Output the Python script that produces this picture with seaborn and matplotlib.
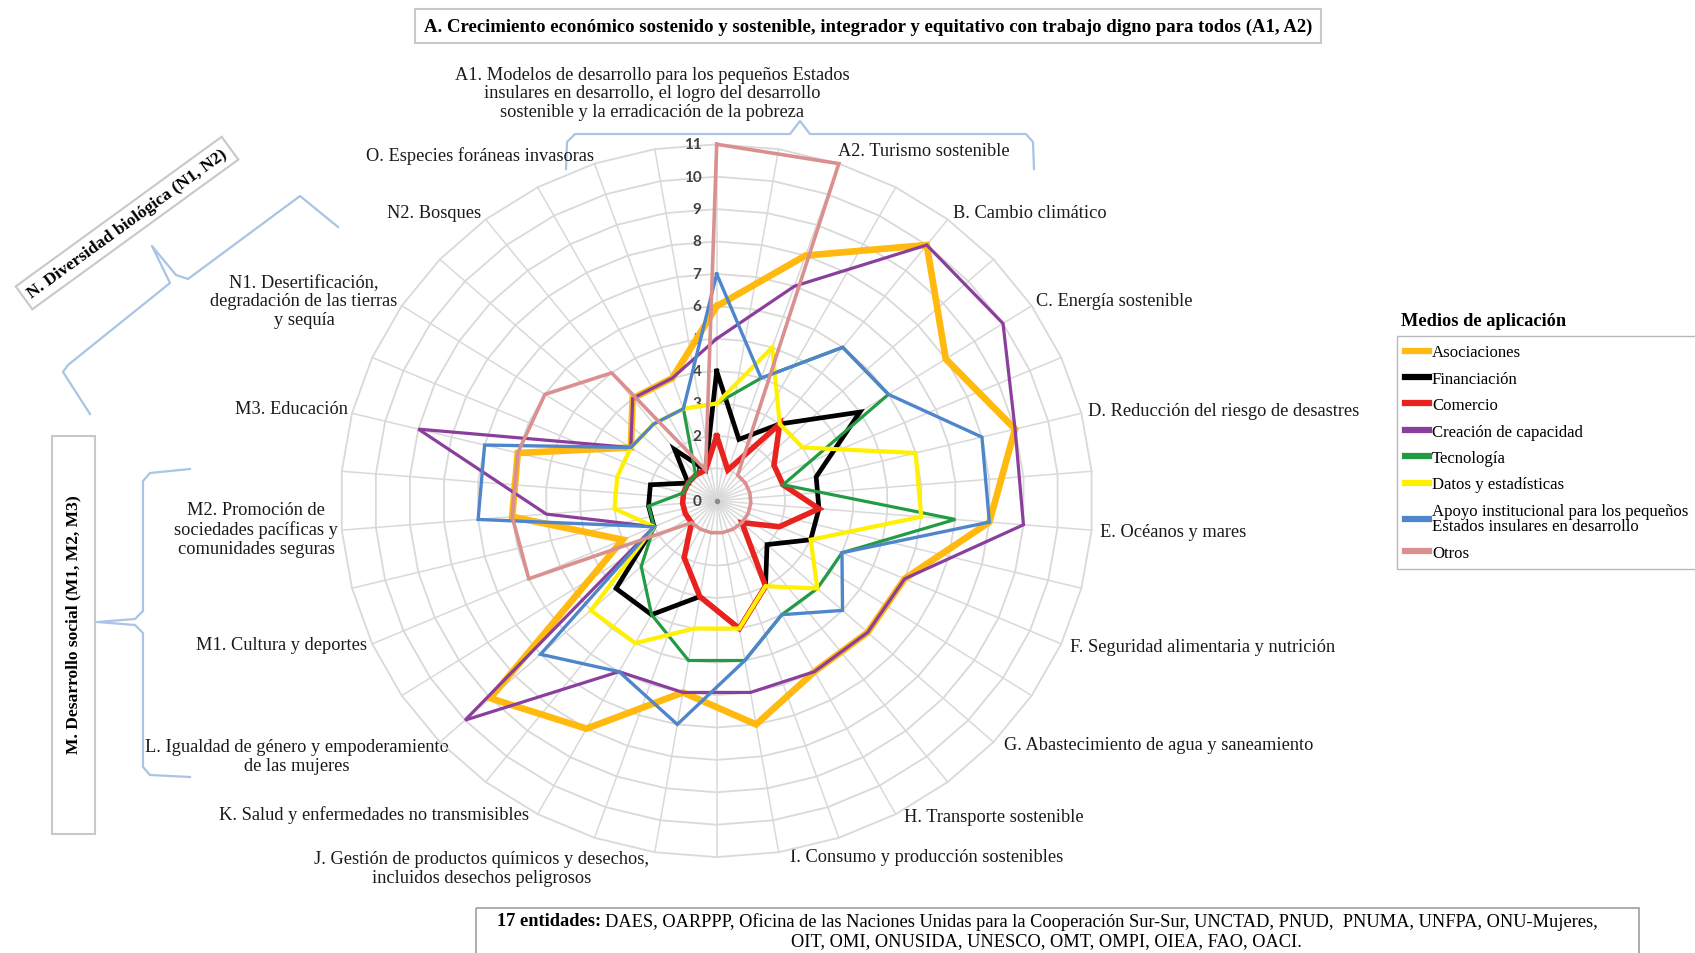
import numpy as np
import pandas as pd
import matplotlib
matplotlib.use("Agg")
import matplotlib.pyplot as plt
from matplotlib.lines import Line2D
from matplotlib.patches import Rectangle
import seaborn as sns

# categorias del grafico radial (en sentido horario desde arriba)
categorias = ["A1", "A2", "B", "C", "D", "E", "F", "G", "H", "I",
              "J", "K", "L", "M1", "M2", "M3", "N1", "N2", "O"]

etiquetas = [
    "A1. Modelos de desarrollo para los pequeños Estados\ninsulares en desarrollo, el logro del desarrollo\nsostenible y la erradicación de la pobreza",
    "A2. Turismo sostenible",
    "B. Cambio climático",
    "C. Energía sostenible",
    "D. Reducción del riesgo de desastres",
    "E. Océanos y mares",
    "F. Seguridad alimentaria y nutrición",
    "G. Abastecimiento de agua y saneamiento",
    "H. Transporte sostenible",
    "I. Consumo y producción sostenibles",
    "J. Gestión de productos químicos y desechos,\nincluidos desechos peligrosos",
    "K. Salud y enfermedades no transmisibles",
    "L. Igualdad de género y empoderamiento\nde las mujeres",
    "M1. Cultura y deportes",
    "M2. Promoción de\nsociedades pacíficas y\ncomunidades seguras",
    "M3. Educación",
    "N1. Desertificación,\ndegradación de las tierras\ny sequía",
    "N2. Bosques",
    "O. Especies foráneas invasoras",
]

# valores (numero de entidades) por medio de aplicacion
asociaciones = [6, 8, 10, 8, 9, 8, 6, 6, 6, 7, 6, 8, 9, 3, 6, 6, 3, 4, 4]
financiacion = [4, 2, 3, 5, 3, 3, 3, 2, 3, 4, 3, 4, 4, 2, 2, 2, 1, 2, 1]
comercio = [2, 1, 3, 2, 2, 3, 2, 1, 3, 4, 3, 2, 1, 1, 1, 1, 1, 1, 1]
creacion_capacidad = [5, 7, 10, 10, 9, 9, 6, 6, 6, 6, 6, 6, 10, 2, 5, 9, 3, 4, 4]
tecnologia = [3, 4, 6, 6, 2, 7, 4, 4, 4, 5, 5, 4, 3, 2, 2, 1, 1, 1, 3]
datos_estadisticas = [3, 5, 3, 3, 6, 6, 3, 4, 3, 4, 4, 5, 5, 2, 3, 3, 3, 3, 3]
apoyo_institucional = [7, 4, 6, 6, 8, 8, 4, 5, 4, 5, 7, 6, 7, 2, 7, 7, 3, 3, 3]
otros = [11, 11, 1, 1, 1, 1, 1, 1, 1, 1, 1, 1, 1, 6, 6, 6, 6, 5, 1]

series = ["Asociaciones", "Financiación", "Comercio", "Creación de capacidad",
          "Tecnología", "Datos y estadísticas",
          "Apoyo institucional para los pequeños\nEstados insulares en desarrollo",
          "Otros"]
valores = [asociaciones, financiacion, comercio, creacion_capacidad,
           tecnologia, datos_estadisticas, apoyo_institucional, otros]
colores = ["#FFB90F", "#000000", "#E8231F", "#8B3F9C",
           "#239B45", "#FFF000", "#4F86CB", "#D9908F"]
grosores = [4.8, 3.4, 4.0, 2.3, 2.3, 3.0, 2.4, 2.6]

niveles = list(range(0, 12))

# ---- figura ----
W, H = 1695, 954
fig = plt.figure(figsize=(W / 100, H / 100), dpi=100)
plt.rcParams["font.family"] = ["Liberation Serif", "DejaVu Serif"]
FS = 13.2

deco = fig.add_axes([0, 0, 1, 1])
deco.set_xlim(0, W)
deco.set_ylim(H, 0)
deco.axis("off")

cx, cy = 716.7, 501.7   # centro en pixeles
ux, uy = 34.2, 32.4     # pixeles por unidad (la imagen esta algo estirada)
lim = 13
ax = fig.add_axes([(cx - lim * ux) / W, (H - cy - lim * uy) / H,
                   2 * lim * ux / W, 2 * lim * uy / H])
ax.set_xlim(-lim, lim)
ax.set_ylim(-lim, lim)
ax.axis("off")
ax.patch.set_alpha(0)

n = len(categorias)
ang = 2 * np.pi * np.arange(n) / n

# rejilla tipo telarana
ang_grid = 2 * np.pi * np.arange(2 * n + 1) / (2 * n)
for r in niveles[1:]:
    ax.plot(r * np.sin(ang_grid), r * np.cos(ang_grid), color="#D9D9D9", lw=1.3, zorder=1)
for a in ang_grid[:-1]:
    ax.plot([0, max(niveles) * np.sin(a)], [0, max(niveles) * np.cos(a)],
            color="#D9D9D9", lw=1.1, zorder=1)
ax.plot(0, 0, "o", color="#8C8C8C", ms=3, zorder=1)

for r in niveles:
    ax.text(-0.45, r, str(r), ha="right", va="center", fontsize=11,
            fontweight="bold", color="#404040", family="Lato", zorder=2)

# series
filas = []
for nombre, vals in zip(series, valores):
    v = np.array(vals + vals[:1], dtype=float)
    a = np.append(ang, ang[0])
    for i in range(len(v)):
        filas.append({"serie": nombre, "orden": i,
                      "x": v[i] * np.sin(a[i]), "y": v[i] * np.cos(a[i])})
df = pd.DataFrame(filas)

for k, (nombre, col, lw) in enumerate(zip(series, colores, grosores)):
    sns.lineplot(data=df[df["serie"] == nombre], x="x", y="y", sort=False,
                 estimator=None, color=col, linewidth=lw, ax=ax, legend=False,
                 zorder=3 + k)
for l in ax.lines:
    l.set_solid_joinstyle("miter")
ax.set_xlabel("")
ax.set_ylabel("")

# etiquetas de categorias (posicion en pixeles, alineacion)
pos_etiquetas = [
    (652, 94, "center"), (924, 151, "center"), (953, 213, "left"),
    (1036, 302, "left"), (1088, 412, "left"), (1100, 533, "left"),
    (1070, 648, "left"), (1004, 746, "left"), (904, 818, "left"),
    (790, 858, "left"), (482, 869, "center"), (529, 815, "right"),
    (297, 757, "center"), (367, 646, "right"), (256, 530, "center"),
    (348, 410, "right"), (304, 302, "center"), (481, 214, "right"),
    (594, 156, "right"),
]
for txt, (px, py, al) in zip(etiquetas, pos_etiquetas):
    deco.text(px, py, txt, ha=al, va="center", fontsize=FS,
              multialignment="center", linespacing=1.12, color="#1a1a1a")

# titulo superior
deco.text(868, 27, "A. Crecimiento económico sostenido y sostenible, integrador y "
          "equitativo con trabajo digno para todos (A1, A2)",
          ha="center", va="center", fontsize=13.5, fontweight="bold",
          bbox=dict(boxstyle="square,pad=0.45", fc="white", ec="#C8C8C8", lw=1.5))

# llaves (corchetes) azules
azul = "#A9C4E4"
deco.plot([566, 567, 575, 790, 800, 810, 1026, 1033, 1034],
          [170, 143, 135, 135, 122, 135, 135, 143, 170], color=azul, lw=1.6)
deco.plot([90, 63, 68, 170, 152, 176, 188, 300, 338],
          [415, 373, 366, 284, 247, 276, 280, 197, 228], color=azul, lw=1.6)
deco.plot([190, 150, 143, 143, 135, 97, 135, 143, 143, 150, 190],
          [470, 474, 482, 612, 620, 623, 626, 634, 768, 776, 778], color=azul, lw=1.6)

# caja N
deco.text(127, 224, "N. Diversidad biológica (N1, N2)", rotation=36,
          rotation_mode="anchor", ha="center", va="center", fontsize=12.6,
          fontweight="bold",
          bbox=dict(boxstyle="square,pad=0.35", fc="white", ec="#C8C8C8", lw=1.5))

# caja M
deco.add_patch(Rectangle((52, 437), 43, 398, fill=False, ec="#C8C8C8", lw=1.5))
deco.text(73, 625, "M. Desarrollo social (M1, M2, M3)", rotation=90,
          ha="center", va="center", fontsize=12.6, fontweight="bold")

# caja inferior de entidades
deco.add_patch(Rectangle((476, 909), 1163, 60, fill=False, ec="#A6A6A6", lw=1.3))
t_bold = deco.text(497, 922, "17 entidades:", ha="left", va="center", fontsize=FS,
                   fontweight="bold")
fig.canvas.draw()
bb = t_bold.get_window_extent()
x_fin = deco.transData.inverted().transform((bb.x1, bb.y0))[0]
deco.text(x_fin + 4, 922, "DAES, OARPPP, Oficina de las Naciones Unidas para la Cooperación "
          "Sur-Sur, UNCTAD, PNUD,  PNUMA, UNFPA, ONU-Mujeres,",
          ha="left", va="center", fontsize=FS)
deco.text(1046, 942, "OIT, OMI, ONUSIDA, UNESCO, OMT, OMPI, OIEA, FAO, OACI.",
          ha="center", va="center", fontsize=FS)

# leyenda
deco.text(1401, 322, "Medios de aplicación", ha="left", va="center",
          fontsize=FS, fontweight="bold")
handles = [Line2D([0], [0], color=c, lw=4.5) for c in colores]
leg = fig.legend(handles, series, loc="upper left",
                 bbox_to_anchor=(1396.7 / W, 1 - 337 / H), frameon=True,
                 fancybox=False, edgecolor="#A6A6A6", fontsize=12.1,
                 handlelength=1.4, handletextpad=0.2, labelspacing=0.62,
                 borderpad=0.5, borderaxespad=0)
for t in leg.get_texts():
    t.set_linespacing(0.95)

fig.savefig("out.png", dpi=100)
